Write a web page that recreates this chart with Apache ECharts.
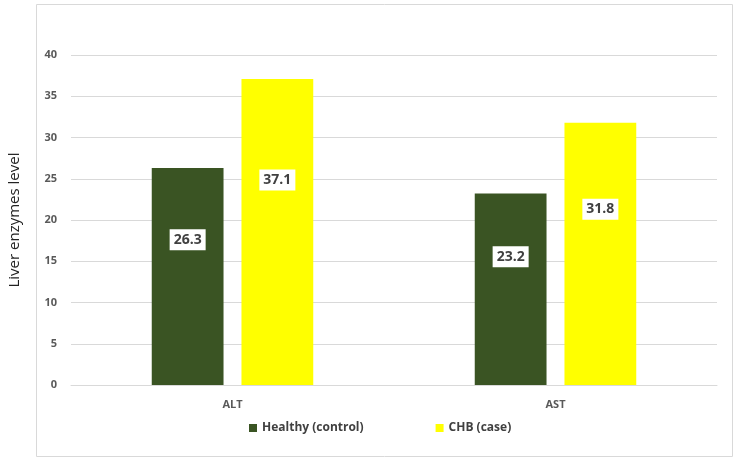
<!DOCTYPE html>
<html><head><meta charset="utf-8">
<script src="https://cdn.jsdelivr.net/npm/echarts@6/dist/echarts.min.js"></script>
<style>html,body{margin:0;padding:0;background:#fff}#c{width:735px;height:464px}</style>
</head><body><div id="c"></div>
<script>
var categories = ['ALT', 'AST'];
var seriesNames = ['Healthy (control)', 'CHB (case)'];
var healthy = [26.3, 23.2];
var chb = [37.1, 31.8];
var yTicks = [0, 5, 10, 15, 20, 25, 30, 35, 40];

var chart = echarts.init(document.getElementById('c'), null, {renderer: 'canvas'});
var lbl = {
  show: true,
  position: ['50%', '33%'],
  align: 'center',
  verticalAlign: 'middle',
  backgroundColor: '#ffffff',
  padding: [4, 4, 3, 4],
  color: '#404040',
  fontWeight: 'bold',
  fontSize: 14,
  fontFamily: 'Open Sans, sans-serif',
  formatter: function (p) { return p.value.toFixed(1); }
};
chart.setOption({
  animation: false,
  graphic: [{
    type: 'rect', left: 34, top: 2,
    shape: {width: 696, height: 452},
    style: {fill: 'none', stroke: '#d9d9d9', lineWidth: 1}
  }],
  grid: {left: 71, right: 18, top: 55, bottom: 79, containLabel: false, outerBoundsMode: 'none'},
  legend: {
    bottom: 25, left: 244,
    itemWidth: 8, itemHeight: 8, itemGap: 72,
    icon: 'rect',
    textStyle: {color: '#404040', fontSize: 12, fontWeight: 'bold', fontFamily: 'Open Sans, sans-serif'},
    data: seriesNames
  },
  xAxis: {
    type: 'category', data: categories,
    axisLine: {lineStyle: {color: '#d9d9d9'}},
    axisTick: {show: false},
    axisLabel: {color: '#595959', fontSize: 11, fontWeight: 'bold', margin: 14, fontFamily: 'Open Sans, sans-serif'}
  },
  yAxis: {
    type: 'value', min: yTicks[0], max: yTicks[yTicks.length - 1], interval: 5,
    name: 'Liver enzymes level', nameLocation: 'middle', nameGap: 49, nameRotate: 90,
    nameTextStyle: {color: '#222', fontSize: 15, fontFamily: 'Open Sans, sans-serif'},
    axisLine: {show: false}, axisTick: {show: false},
    axisLabel: {color: '#595959', fontSize: 11, fontWeight: 'bold', margin: 14, fontFamily: 'Open Sans, sans-serif'},
    splitLine: {lineStyle: {color: '#d9d9d9', width: 1}}
  },
  series: [
    {name: seriesNames[0], type: 'bar', data: healthy, barGap: '25%', barCategoryGap: '50%',
     itemStyle: {color: '#3a5423'}, label: lbl},
    {name: seriesNames[1], type: 'bar', data: chb,
     itemStyle: {color: '#ffff00'}, label: lbl}
  ]
});
</script></body></html>
